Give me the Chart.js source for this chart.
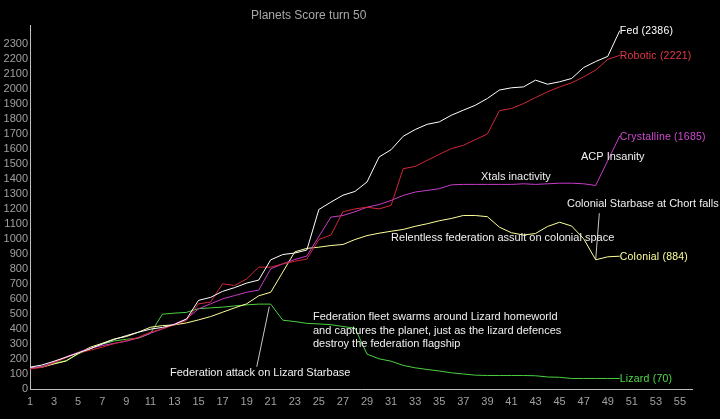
<!DOCTYPE html>
<html>
<head>
<meta charset="utf-8">
<script src="https://cdn.jsdelivr.net/npm/chart.js@4/dist/chart.umd.min.js"></script>
<style>
html,body{margin:0;padding:0;background:#000;}
#c{display:block;}
</style>
</head>
<body>
<canvas id="c" width="720" height="419"></canvas>
<script>
// ---- data ----
const turns = [1,2,3,4,5,6,7,8,9,10,11,12,13,14,15,16,17,18,19,20,21,22,23,24,25,26,27,28,29,30,31,32,33,34,35,36,37,38,39,40,41,42,43,44,45,46,47,48,49,50];
const xTickLabels = [1,3,5,7,9,11,13,15,17,19,21,23,25,27,29,31,33,35,37,39,41,43,45,47,49,51,53,55];
const yTickLabels = [0,100,200,300,400,500,600,700,800,900,1000,1100,1200,1300,1400,1500,1600,1700,1800,1900,2000,2100,2200,2300];
const seriesNames = ["Fed","Robotic","Crystalline","Colonial","Lizard"];
const fed = [145,160,185,212,240,268,300,330,355,378,398,410,430,465,590,610,650,675,705,725,860,895,905,925,1195,1244,1290,1315,1378,1544,1593,1682,1727,1762,1778,1822,1856,1889,1934,1990,2005,2011,2056,2029,2045,2067,2140,2180,2214,2386];
const robotic = [133,144,175,208,240,258,278,302,322,344,378,400,427,456,567,578,700,689,733,811,811,833,850,865,995,1025,1180,1199,1210,1199,1222,1466,1482,1522,1562,1600,1622,1660,1697,1853,1867,1900,1940,1978,2011,2038,2078,2123,2194,2221];
const crystalline = [138,149,178,214,244,271,289,304,318,340,371,400,433,467,533,567,600,622,644,658,800,833,862,885,1015,1144,1155,1180,1210,1228,1255,1288,1311,1322,1333,1359,1362,1362,1362,1362,1362,1366,1362,1366,1370,1370,1366,1355,1520,1685];
const colonial = [140,145,167,186,236,278,304,333,349,378,411,422,427,440,460,482,511,540,567,620,644,778,913,936,944,955,962,995,1021,1037,1050,1062,1083,1100,1120,1135,1155,1155,1147,1077,1040,1025,1035,1082,1110,1085,1000,860,880,884];
const lizard = [140,149,171,189,233,267,298,320,331,338,370,498,505,510,535,540,545,553,560,565,565,458,449,437,433,428,416,405,232,201,185,157,141,130,120,108,100,92,90,90,90,90,88,80,78,70,70,70,70,70];

// annotations: [text lines, turn, value]
const notes = [
  [["Federation attack on Lizard Starbase"], 12.63, 106],
  [["Federation fleet swarms around Lizard homeworld","and captures the planet, just as the lizard defences","destroy the federation flagship"], 24.51, 477],
  [["Relentless federation assult on colonial space"], 31.0, 1003],
  [["Xtals inactivity"], 38.47, 1409],
  [["ACP Insanity"], 46.78, 1546],
  [["Colonial Starbase at Chort falls"], 45.62, 1231]
];
const pointers = [
  [19.84, 148, 20.88, 548],
  [48.30, 1170, 48.00, 863]
];

// ---- styles ----
const colors = ["#ffffff","#d02838","#c83cc8","#ffff99","#4cd040"];
const labelColors = ["#ffffff","#e03848","#d048d0","#ffff99","#50d848"];
const FONT = "'Liberation Sans', Arial, sans-serif";

const allSeries = [fed, robotic, crystalline, colonial, lizard];
const datasets = allSeries.map((s, i) => ({
  label: seriesNames[i],
  data: s.map((v, j) => ({x: turns[j], y: v})),
  borderColor: colors[i],
  backgroundColor: colors[i],
  borderWidth: 1,
  pointRadius: 0,
  tension: 0,
  fill: false
}));

const overlay = {
  id: 'overlay',
  afterDatasetsDraw(chart) {
    const ctx = chart.ctx;
    const xs = chart.scales.x, ys = chart.scales.y;
    ctx.save();
    // title
    ctx.fillStyle = '#a8a8a8';
    ctx.font = '12px ' + FONT;
    ctx.textAlign = 'left';
    ctx.textBaseline = 'middle';
    ctx.fillText('Planets Score turn 50', 251, 16);
    // pointers
    ctx.strokeStyle = '#c8c8c8';
    ctx.lineWidth = 1;
    pointers.forEach(p => {
      ctx.beginPath();
      ctx.moveTo(xs.getPixelForValue(p[0]), ys.getPixelForValue(p[1]));
      ctx.lineTo(xs.getPixelForValue(p[2]), ys.getPixelForValue(p[3]));
      ctx.stroke();
    });
    // notes
    ctx.fillStyle = '#f0f0f0';
    ctx.font = '11px ' + FONT;
    notes.forEach(n => {
      const x = xs.getPixelForValue(n[1]);
      const y = ys.getPixelForValue(n[2]);
      n[0].forEach((line, k) => ctx.fillText(line, x, y + k * 13.4));
    });
    // end labels
    ctx.font = '10.5px ' + FONT;
    try { ctx.letterSpacing = '0.2px'; } catch (e) {}
    allSeries.forEach((s, i) => {
      const last = s.length - 1;
      const x = xs.getPixelForValue(turns[last]);
      const y = ys.getPixelForValue(s[last]);
      ctx.fillStyle = labelColors[i];
      ctx.fillText(seriesNames[i] + ' (' + s[last] + ')', x, y + 1);
    });
    ctx.restore();
  }
};

new Chart(document.getElementById('c'), {
  type: 'line',
  data: { datasets },
  options: {
    responsive: false,
    animation: false,
    devicePixelRatio: 1,
    layout: { padding: { top: 25, right: 28, left: 0, bottom: 0 } },
    plugins: { legend: { display: false }, tooltip: { enabled: false }, title: { display: false } },
    scales: {
      x: {
        type: 'linear',
        min: 1,
        max: 56,
        grid: { display: false, drawTicks: false },
        border: { display: true, color: '#c0c0c0', width: 1 },
        ticks: { color: '#a0a0a0', font: { size: 11, family: FONT }, padding: 6, maxRotation: 0, autoSkip: false, callback: (v) => String(v) },
        afterBuildTicks: (sc) => { sc.ticks = xTickLabels.map(v => ({ value: v })); },
        afterFit: (sc) => { sc.height = 30; }
      },
      y: {
        type: 'linear',
        min: 0,
        max: 2423,
        grid: { display: false, drawTicks: false },
        border: { display: true, color: '#c0c0c0', width: 1 },
        ticks: { color: '#a0a0a0', font: { size: 11, family: FONT }, padding: 2, autoSkip: false, callback: (v) => String(v) },
        afterBuildTicks: (sc) => { sc.ticks = yTickLabels.map(v => ({ value: v })); },
        afterFit: (sc) => { sc.width = 30; }
      }
    }
  },
  plugins: [overlay]
});
</script>
</body>
</html>
